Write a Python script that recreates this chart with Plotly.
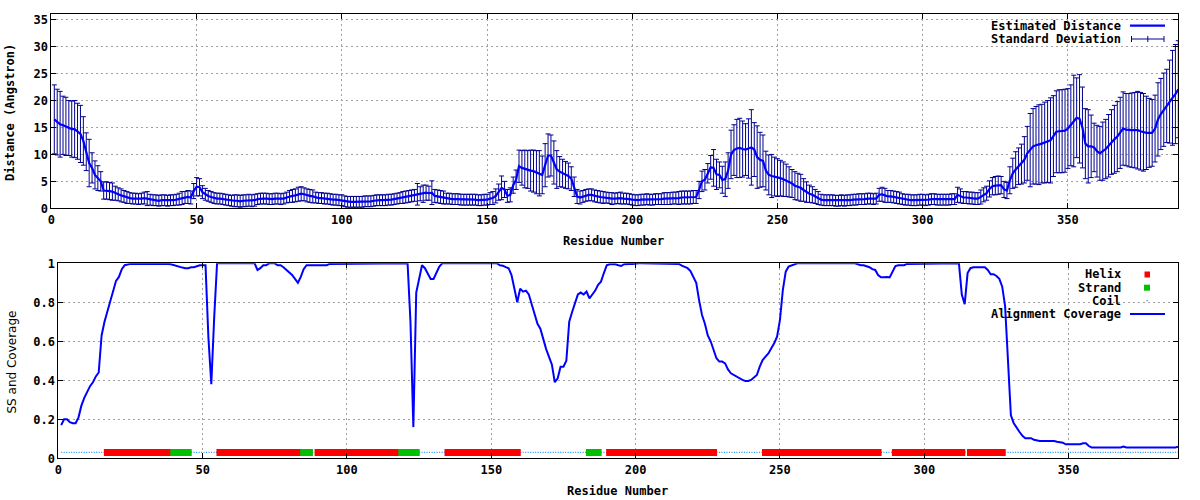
import plotly.graph_objects as go

# ---------------- data ----------------
residues = list(range(1, 389))

est_distance = [
    16.5, 16.0, 15.6, 15.4, 15.2, 14.9, 14.7, 14.7, 14.3, 13.8,   # 1-10
    12.5, 10.5, 8.4, 7.5, 6.2, 5.6, 5.0, 3.3, 3.3, 3.2,           # 11-20
    3.1, 2.8, 2.6, 2.4, 2.2, 2.0, 1.9, 1.8, 1.8, 1.7,             # 21-30
    1.8, 1.9, 1.8, 1.6, 1.5, 1.5, 1.4, 1.5, 1.5, 1.4,             # 31-40
    1.5, 1.5, 1.6, 1.7, 1.9, 2.0, 2.1, 2.0, 3.2, 4.0,             # 41-50
    3.9, 3.0, 2.6, 2.3, 2.1, 1.9, 1.8, 1.8, 1.7, 1.6,             # 51-60
    1.5, 1.4, 1.4, 1.4, 1.3, 1.4, 1.4, 1.5, 1.4, 1.5,             # 61-70
    1.7, 1.8, 1.8, 1.8, 1.7, 1.7, 1.8, 1.8, 1.7, 1.8,             # 71-80
    2.0, 2.2, 2.3, 2.4, 2.6, 2.7, 2.6, 2.4, 2.3, 2.2,             # 81-90
    2.0, 1.9, 1.9, 1.8, 1.8, 1.7, 1.6, 1.6, 1.5, 1.5,             # 91-100
    1.3, 1.2, 1.2, 1.2, 1.2, 1.2, 1.2, 1.3, 1.3, 1.3,             # 101-110
    1.4, 1.5, 1.5, 1.5, 1.5, 1.6, 1.6, 1.7, 1.8, 1.9,             # 111-120
    2.0, 2.1, 2.2, 2.3, 2.4, 2.6, 2.7, 2.7, 2.9, 2.8,             # 121-130
    2.9, 2.3, 2.2, 2.1, 2.0, 1.8, 1.8, 1.7, 1.7, 1.7,             # 131-140
    1.6, 1.6, 1.6, 1.6, 1.6, 1.6, 1.5, 1.5, 1.6, 1.6,             # 141-150
    1.8, 1.9, 2.3, 3.0, 3.8, 3.5, 2.3, 2.5, 4.3, 5.3,             # 151-160
    7.8, 7.5, 7.3, 7.2, 7.0, 6.9, 6.7, 6.5, 6.2, 8.0,             # 161-170
    9.8, 9.8, 8.5, 7.2, 6.8, 6.5, 6.2, 6.0, 5.5, 4.0,             # 171-180
    2.2, 2.0, 2.2, 2.4, 2.5, 2.5, 2.3, 2.2, 2.1, 2.0,             # 181-190
    2.0, 1.9, 1.8, 1.8, 1.9, 1.9, 1.8, 1.8, 1.7, 1.6,             # 191-200
    1.5, 1.5, 1.6, 1.6, 1.7, 1.6, 1.6, 1.7, 1.7, 1.7,             # 201-210
    1.8, 1.8, 1.8, 1.9, 1.9, 1.9, 2.0, 2.0, 2.0, 2.0,             # 211-220
    2.1, 2.1, 3.4, 5.0, 5.3, 6.5, 7.6, 7.5, 6.3, 6.2,             # 221-230
    5.3, 5.4, 7.0, 10.0, 10.8, 11.1, 11.2, 11.0, 10.9, 11.1,      # 231-240
    11.3, 10.9, 9.5, 9.0, 8.8, 7.0, 6.2, 6.0, 5.9, 5.7,           # 241-250
    5.6, 5.4, 5.2, 4.9, 4.6, 4.2, 4.0, 3.8, 3.4, 3.0,             # 251-260
    2.7, 2.5, 2.2, 1.9, 1.6, 1.5, 1.5, 1.5, 1.5, 1.4,             # 261-270
    1.4, 1.5, 1.4, 1.5, 1.5, 1.6, 1.6, 1.7, 1.7, 1.7,             # 271-280
    1.8, 1.8, 1.7, 1.8, 2.5, 2.6, 2.4, 2.2, 2.2, 2.1,             # 281-290
    2.0, 1.9, 1.7, 1.6, 1.6, 1.5, 1.5, 1.5, 1.6, 1.6,             # 291-300
    1.5, 1.6, 1.7, 1.7, 1.6, 1.6, 1.6, 1.6, 1.6, 1.7,             # 301-310
    1.7, 2.5, 2.3, 2.0, 2.0, 1.9, 1.9, 1.8, 1.8, 2.1,             # 311-320
    2.5, 2.8, 3.6, 4.1, 4.2, 4.3, 4.3, 3.5, 3.3, 5.2,             # 321-330
    6.5, 7.2, 7.8, 8.2, 9.0, 10.2, 10.8, 11.5, 11.7, 11.8,        # 331-340
    12.0, 12.2, 12.4, 12.6, 13.4, 14.2, 14.3, 14.3, 14.4, 14.8,   # 341-350
    15.4, 16.2, 16.8, 16.6, 15.0, 12.0, 11.5, 11.5, 11.3, 10.6,   # 351-360
    10.2, 10.6, 11.0, 11.6, 12.3, 12.8, 13.3, 14.0, 14.8, 14.6,   # 361-370
    14.5, 14.5, 14.5, 14.5, 14.3, 14.1, 14.0, 14.0, 14.0, 14.8,   # 371-380
    16.5, 17.5, 18.3, 19.0, 19.8, 20.5, 21.2, 22.1,               # 381-388
]

std_dev = [
    6.4, 6.1, 6.1, 5.4, 5.4, 5.1, 5.2, 5.3, 5.2, 5.3,   # 1-10
    4.5, 3.5, 4.4, 2.8, 2.6, 2.3, 1.8, 1.6, 1.6, 1.6,   # 11-20
    1.6, 1.3, 1.2, 1.2, 1.1, 1.1, 1.0, 1.0, 1.0, 1.0,   # 21-30
    1.0, 1.1, 1.3, 1.0, 1.0, 1.0, 1.0, 1.0, 1.0, 1.0,   # 31-40
    1.0, 1.0, 1.0, 1.1, 1.2, 1.1, 1.2, 1.2, 1.4, 1.7,   # 41-50
    1.6, 1.2, 1.1, 1.0, 1.0, 1.0, 1.0, 1.0, 1.0, 1.0,   # 51-60
    1.0, 1.0, 1.1, 1.1, 1.1, 1.1, 1.1, 1.1, 1.1, 1.1,   # 61-70
    1.0, 1.0, 1.0, 1.0, 1.0, 1.0, 1.0, 1.0, 1.0, 1.0,   # 71-80
    1.0, 1.1, 1.2, 1.2, 1.3, 1.3, 1.2, 1.2, 1.2, 1.2,   # 81-90
    1.0, 1.0, 1.0, 1.0, 1.0, 1.0, 1.0, 1.0, 1.0, 1.0,   # 91-100
    1.0, 1.0, 1.0, 1.0, 1.0, 1.0, 1.0, 1.0, 1.0, 1.0,   # 101-110
    1.0, 1.0, 1.0, 1.0, 1.0, 1.0, 1.0, 1.0, 1.0, 1.0,   # 111-120
    1.1, 1.1, 1.1, 1.1, 1.1, 2.0, 1.3, 1.6, 1.4, 1.3,   # 121-130
    2.2, 1.2, 1.2, 1.2, 1.2, 1.0, 1.0, 1.0, 1.0, 1.0,   # 131-140
    1.0, 1.0, 1.0, 1.0, 1.0, 1.0, 1.0, 1.0, 1.0, 1.0,   # 141-150
    1.1, 1.2, 1.3, 1.5, 2.2, 1.5, 1.2, 1.3, 1.5, 1.8,   # 151-160
    3.0, 3.2, 3.5, 3.5, 3.8, 3.9, 4.0, 4.2, 3.5, 4.0,   # 161-170
    4.0, 3.8, 4.0, 3.5, 2.8, 2.6, 2.5, 2.4, 2.2, 1.8,   # 171-180
    1.3, 1.2, 1.1, 1.1, 1.1, 1.1, 1.1, 1.1, 1.1, 1.1,   # 181-190
    1.0, 1.0, 1.1, 1.0, 1.0, 1.1, 1.0, 1.0, 1.0, 1.0,   # 191-200
    1.0, 1.0, 1.0, 1.0, 1.0, 1.0, 1.0, 1.0, 1.0, 1.0,   # 201-210
    1.1, 1.1, 1.1, 1.1, 1.1, 1.2, 1.2, 1.2, 1.2, 1.2,   # 211-220
    1.2, 1.2, 1.6, 1.9, 1.9, 1.8, 2.2, 3.4, 2.8, 2.4,   # 221-230
    2.5, 3.2, 3.3, 4.5, 4.7, 5.4, 5.5, 5.2, 4.8, 5.5,   # 231-240
    7.0, 5.0, 5.8, 5.1, 4.8, 3.6, 3.7, 4.0, 3.6, 3.5,   # 241-250
    3.3, 3.2, 3.0, 2.8, 2.6, 2.6, 2.5, 2.5, 2.1, 1.9,   # 251-260
    1.6, 1.5, 1.3, 1.2, 1.0, 1.0, 1.0, 1.0, 1.0, 1.0,   # 261-270
    1.0, 1.0, 1.0, 1.0, 1.0, 1.0, 1.0, 1.0, 1.0, 1.0,   # 271-280
    1.0, 1.0, 1.0, 1.0, 1.2, 1.3, 1.3, 1.1, 1.1, 1.1,   # 281-290
    1.1, 1.1, 1.0, 1.0, 1.0, 1.0, 1.0, 1.0, 1.0, 1.0,   # 291-300
    1.0, 1.0, 1.0, 1.0, 1.0, 1.0, 1.0, 1.0, 1.0, 1.0,   # 301-310
    1.0, 1.4, 1.3, 1.1, 1.1, 1.1, 1.1, 1.1, 1.1, 1.3,   # 311-320
    1.3, 1.3, 1.5, 1.6, 1.7, 1.7, 1.6, 1.5, 1.5, 2.5,   # 321-330
    2.8, 3.3, 3.4, 3.7, 4.3, 5.0, 6.8, 7.0, 7.2, 7.4,   # 331-340
    7.3, 7.5, 7.6, 7.9, 7.5, 7.6, 7.7, 7.7, 7.7, 7.4,   # 341-350
    7.5, 8.5, 7.4, 8.2, 7.5, 6.5, 6.8, 5.8, 4.5, 4.8,   # 351-360
    5.0, 5.4, 5.5, 5.8, 6.0, 6.3, 6.5, 6.6, 6.8, 6.7,   # 361-370
    6.8, 6.9, 7.0, 7.2, 7.2, 7.2, 6.8, 6.4, 6.2, 6.2,   # 371-380
    6.8, 6.6, 6.8, 6.8, 7.7, 8.8, 9.2, 9.0,             # 381-388
]

coverage = [
    0.17, 0.20, 0.20, 0.185, 0.18, 0.18, 0.21, 0.27, 0.31, 0.34,          # 1-10
    0.37, 0.39, 0.42, 0.44, 0.63, 0.70, 0.75, 0.80, 0.86, 0.91,           # 11-20
    0.93, 0.97, 0.99, 0.995, 0.997, 0.997, 0.997, 0.997, 1.0, 1.0,        # 21-30
    1.0, 1.0, 1.0, 1.0, 1.0, 1.0, 0.997, 0.997, 0.995, 0.99,              # 31-40
    0.985, 0.98, 0.978, 0.975, 0.975, 0.98, 0.98, 0.985, 0.99, 0.99,      # 41-50
    0.99, 0.62, 0.38, 0.72, 1.0, 1.0, 1.0, 1.0, 1.0, 1.0,                 # 51-60
    1.0, 1.0, 1.0, 1.0, 1.0, 1.0, 1.0, 1.0, 0.966, 0.975,                 # 61-70
    0.99, 0.99, 1.0, 1.0, 1.0, 0.99, 0.99, 0.98, 0.966, 0.957,            # 71-80
    0.94, 0.92, 0.90, 0.93, 0.97, 0.99, 0.99, 0.99, 0.99, 0.99,           # 81-90
    0.99, 0.99, 0.99, 0.997, 0.997, 0.997, 0.997, 0.997, 0.997, 0.997,    # 91-100
    0.997, 0.997, 1.0, 1.0, 1.0, 1.0, 1.0, 1.0, 1.0, 1.0,                 # 101-110
    1.0, 1.0, 1.0, 1.0, 1.0, 1.0, 1.0, 1.0, 1.0, 1.0,                     # 111-120
    1.0, 0.70, 0.16, 0.85, 0.93, 0.99, 0.975, 0.95, 0.92, 0.92,           # 121-130
    0.955, 0.983, 1.0, 1.0, 1.0, 1.0, 1.0, 1.0, 1.0, 1.0,                 # 131-140
    1.0, 1.0, 1.0, 1.0, 1.0, 1.0, 1.0, 1.0, 1.0, 1.0,                     # 141-150
    1.0, 1.0, 0.99, 0.988, 0.98, 0.975, 0.94, 0.86, 0.80, 0.87,           # 151-160
    0.855, 0.86, 0.84, 0.79, 0.74, 0.69, 0.665, 0.61, 0.56, 0.52,         # 161-170
    0.48, 0.39, 0.41, 0.47, 0.47, 0.50, 0.70, 0.75, 0.80, 0.84,           # 171-180
    0.85, 0.84, 0.855, 0.82, 0.84, 0.86, 0.89, 0.906, 0.95, 0.99,         # 181-190
    0.995, 0.995, 0.995, 0.99, 0.986, 0.995, 0.997, 0.997, 0.997, 1.0,    # 191-200
    1.0, 1.0, 1.0, 1.0, 1.0, 1.0, 1.0, 1.0, 1.0, 1.0,                     # 201-210
    1.0, 1.0, 1.0, 1.0, 0.997, 0.988, 0.98, 0.975, 0.96, 0.93,            # 211-220
    0.90, 0.81, 0.735, 0.69, 0.63, 0.60, 0.556, 0.513, 0.496, 0.496,      # 221-230
    0.487, 0.456, 0.436, 0.427, 0.419, 0.41, 0.402, 0.397, 0.397, 0.402,  # 231-240
    0.415, 0.427, 0.47, 0.504, 0.521, 0.538, 0.564, 0.59, 0.624, 0.71,    # 241-250
    0.863, 0.957, 0.983, 0.99, 0.997, 1.0, 1.0, 1.0, 1.0, 1.0,            # 251-260
    1.0, 1.0, 1.0, 1.0, 1.0, 1.0, 1.0, 1.0, 1.0, 1.0,                     # 261-270
    1.0, 1.0, 1.0, 1.0, 1.0, 1.0, 0.995, 0.99, 0.99, 0.986,               # 271-280
    0.98, 0.97, 0.966, 0.94, 0.928, 0.928, 0.93, 0.928, 0.957, 0.986,     # 281-290
    0.99, 0.99, 0.99, 0.997, 0.997, 1.0, 1.0, 1.0, 1.0, 1.0,              # 291-300
    1.0, 1.0, 1.0, 1.0, 1.0, 1.0, 1.0, 1.0, 1.0, 1.0,                     # 301-310
    1.0, 1.0, 0.84, 0.79, 0.95, 0.975, 0.98, 0.98, 0.98, 0.98,            # 311-320
    0.98, 0.966, 0.944, 0.944, 0.935, 0.92, 0.88, 0.78, 0.47, 0.22,       # 321-330
    0.18, 0.155, 0.135, 0.115, 0.103, 0.103, 0.103, 0.095, 0.09, 0.089,   # 331-340
    0.089, 0.089, 0.089, 0.089, 0.089, 0.085, 0.082, 0.08, 0.072, 0.072,  # 341-350
    0.072, 0.072, 0.072, 0.072, 0.077, 0.077, 0.063, 0.055, 0.055, 0.055, # 351-360
    0.055, 0.055, 0.055, 0.055, 0.055, 0.055, 0.055, 0.055, 0.06, 0.055,  # 361-370
    0.055, 0.055, 0.055, 0.055, 0.055, 0.055, 0.055, 0.055, 0.055, 0.055, # 371-380
    0.055, 0.055, 0.055, 0.055, 0.055, 0.055, 0.055, 0.06,                # 381-388
]

# secondary structure: (type, first residue, last residue)
ss_segments = [
    ("C", 1, 16), ("H", 17, 39), ("E", 40, 45), ("C", 46, 55),
    ("H", 56, 83), ("C", 84, 84), ("E", 85, 87), ("C", 88, 89),
    ("H", 90, 117), ("C", 118, 118), ("E", 119, 124), ("C", 125, 134),
    ("H", 135, 159), ("C", 160, 183), ("E", 184, 187), ("C", 188, 190),
    ("H", 191, 227), ("C", 228, 244), ("H", 245, 284), ("C", 285, 289),
    ("H", 290, 313), ("C", 314, 315), ("H", 316, 327), ("C", 328, 388),
]
ss_level = 0.03

x_ticks = [0, 50, 100, 150, 200, 250, 300, 350]
dist_ticks = [0, 5, 10, 15, 20, 25, 30, 35]
cov_ticks = [0, 0.2, 0.4, 0.6, 0.8, 1]

# ---------------- build SS per residue ----------------
ss_of = {}
for t, a, b in ss_segments:
    for r in range(a, b + 1):
        ss_of[r] = t


def ss_y(kind):
    return [ss_level if ss_of.get(r) == kind else None for r in residues]


# ---------------- figure ----------------
W, H = 1200, 500
NAVY = "#000090"
BLUE = "#0000ff"
GRID = "#a0a0a0"
MONO = "DejaVu Sans Mono"


def px(x):
    return x / W


def py(y):
    return 1 - y / H


fig = go.Figure()

# top chart
fig.add_trace(go.Scatter(
    x=residues, y=est_distance, mode="markers",
    marker=dict(size=1, color=NAVY),
    error_y=dict(type="data", array=std_dev, visible=True, color=NAVY,
                 thickness=1, width=2.5),
    name="Standard Deviation", xaxis="x", yaxis="y", hoverinfo="skip"))
fig.add_trace(go.Scatter(
    x=residues, y=est_distance, mode="lines",
    line=dict(color=BLUE, width=2.2),
    name="Estimated Distance", xaxis="x", yaxis="y"))

# bottom chart
fig.add_trace(go.Scatter(
    x=residues, y=ss_y("C"), mode="lines", connectgaps=False,
    line=dict(color="#1e90ff", width=1.3, dash="1px,1.5px"),
    name="Coil", xaxis="x2", yaxis="y2"))
fig.add_trace(go.Scatter(
    x=residues, y=ss_y("H"), mode="markers",
    marker=dict(symbol="square", size=7, color="#ff0000", line=dict(width=0)),
    name="Helix", xaxis="x2", yaxis="y2"))
fig.add_trace(go.Scatter(
    x=residues, y=ss_y("E"), mode="markers",
    marker=dict(symbol="square", size=7, color="#00c000", line=dict(width=0)),
    name="Strand", xaxis="x2", yaxis="y2"))
fig.add_trace(go.Scatter(
    x=residues, y=coverage, mode="lines",
    line=dict(color=BLUE, width=2),
    name="Alignment Coverage", xaxis="x2", yaxis="y2"))

tickfont = dict(family=MONO, size=12, color="black", weight="bold")
axis_common = dict(showline=True, linecolor="black", linewidth=1, mirror="ticks",
                   ticks="inside", ticklen=5, tickcolor="black", automargin=False,
                   showgrid=True, gridcolor=GRID, griddash="2px,3px", gridwidth=1,
                   zeroline=False, tickfont=tickfont)

fig.update_layout(
    template="none",
    width=W, height=H, margin=dict(l=0, r=0, t=0, b=0, autoexpand=False),
    plot_bgcolor="white", paper_bgcolor="white", showlegend=False,
    xaxis=dict(domain=[px(51.4), px(1178.3)], anchor="y", range=[0, 388],
               tickvals=x_ticks, **axis_common),
    yaxis=dict(domain=[py(208.3), py(14.3)], anchor="x", range=[0, 36],
               tickvals=dist_ticks, **axis_common),
    xaxis2=dict(domain=[px(58.3), px(1178.3)], anchor="y2", range=[0, 388],
                tickvals=x_ticks, **axis_common),
    yaxis2=dict(domain=[py(458.3), py(263.3)], anchor="x2", range=[0, 1],
                tickvals=cov_ticks, **axis_common),
)

annots = []
titlefont = dict(family=MONO, size=12, color="black", weight="bold")
annots.append(dict(text="Residue Number", x=px(613), y=py(240.5), xref="paper", yref="paper",
                   showarrow=False, font=titlefont, xanchor="center", yanchor="middle"))
annots.append(dict(text="Residue Number", x=px(617), y=py(491), xref="paper", yref="paper",
                   showarrow=False, font=titlefont, xanchor="center", yanchor="middle"))
annots.append(dict(text="Distance (Angstron)", x=px(10.5), y=py(112.5), xref="paper", yref="paper",
                   showarrow=False, font=titlefont, textangle=-90, xanchor="center", yanchor="middle"))
annots.append(dict(text="SS and Coverage", x=px(11), y=py(362.5), xref="paper", yref="paper",
                   showarrow=False, font=dict(family="DejaVu Sans", size=12, color="black"),
                   textangle=-90, xanchor="center", yanchor="middle"))

legend_items = [("Estimated Distance", 25.7), ("Standard Deviation", 39.0),
                ("Helix", 274.3), ("Strand", 287.7), ("Coil", 300.7), ("Alignment Coverage", 314.0)]
for txt, yy in legend_items:
    annots.append(dict(text=txt, x=px(1123), y=py(yy), xref="paper", yref="paper",
                       showarrow=False, font=titlefont, xanchor="right", yanchor="middle"))
fig.update_layout(annotations=annots)

shapes = []
# legend samples
shapes.append(dict(type="line", xref="paper", yref="paper", x0=px(1130), x1=px(1165),
                   y0=py(25.7), y1=py(25.7), line=dict(color=BLUE, width=2.2)))
shapes.append(dict(type="line", xref="paper", yref="paper", x0=px(1131.5), x1=px(1164),
                   y0=py(39), y1=py(39), line=dict(color=NAVY, width=1)))
for xx in (1131.5, 1147.8, 1164):
    shapes.append(dict(type="line", xref="paper", yref="paper", x0=px(xx), x1=px(xx),
                       y0=py(36), y1=py(42), line=dict(color=NAVY, width=1)))
shapes.append(dict(type="rect", xref="paper", yref="paper", x0=px(1144.5), x1=px(1150),
                   y0=py(271.5), y1=py(277.5), fillcolor="#ff0000", line=dict(width=0)))
shapes.append(dict(type="rect", xref="paper", yref="paper", x0=px(1144), x1=px(1150),
                   y0=py(284.7), y1=py(290.7), fillcolor="#00c000", line=dict(width=0)))
shapes.append(dict(type="rect", xref="paper", yref="paper", x0=px(1146.5), x1=px(1147.8),
                   y0=py(300), y1=py(301.3), fillcolor="#1e90ff", line=dict(width=0)))
shapes.append(dict(type="line", xref="paper", yref="paper", x0=px(1130), x1=px(1165),
                   y0=py(314), y1=py(314), line=dict(color=BLUE, width=2)))
fig.update_layout(shapes=shapes)

fig.write_html(
    "out.html",
    config={"displayModeBar": False},
    post_script="document.body.style.margin='0px';document.body.style.overflow='hidden';",
)
